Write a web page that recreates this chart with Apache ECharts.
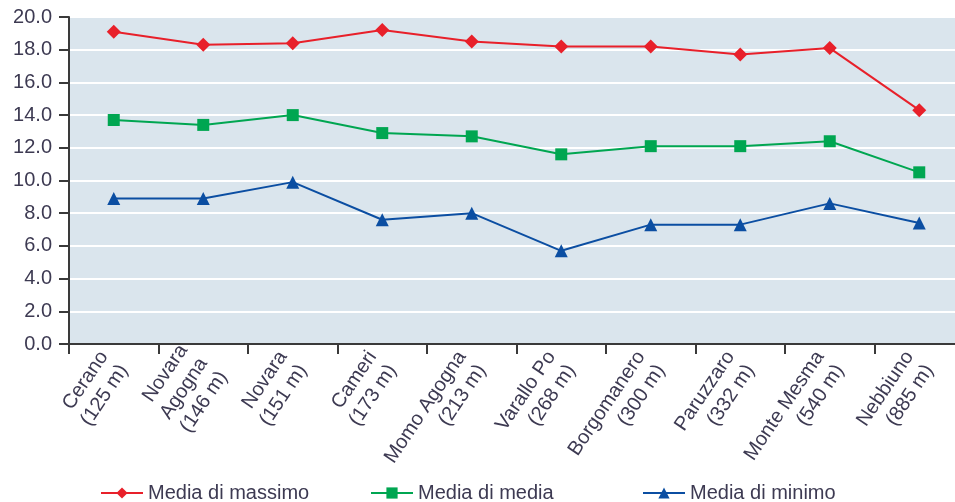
<!DOCTYPE html>
<html>
<head>
<meta charset="utf-8">
<script src="https://cdn.jsdelivr.net/npm/echarts@6/dist/echarts.min.js"></script>
<style>
html,body{margin:0;padding:0;background:#fff;overflow:hidden;width:955px;height:502px;}
#c{width:964px;height:502px;}
</style>
</head>
<body>
<div id="c"></div>
<script>
const categories = ['Cerano\n(125 m)', 'Novara\nAgogna\n(146 m)', 'Novara\n(151 m)', 'Cameri\n(173 m)', 'Momo Agogna\n(213 m)', 'Varallo Po\n(268 m)', 'Borgomanero\n(300 m)', 'Paruzzaro\n(332 m)', 'Monte Mesma\n(540 m)', 'Nebbiuno\n(885 m)'];
const mediaMassimo = [19.1, 18.3, 18.4, 19.2, 18.5, 18.2, 18.2, 17.7, 18.1, 14.3];
const mediaMedia = [13.7, 13.4, 14.0, 12.9, 12.7, 11.6, 12.1, 12.1, 12.4, 10.5];
const mediaMinimo = [8.9, 8.9, 9.9, 7.6, 8.0, 5.7, 7.3, 7.3, 8.6, 7.4];
const yTicks = [0, 2, 4, 6, 8, 10, 12, 14, 16, 18, 20];

const FONT = 'Liberation Sans, Arial, sans-serif';
const TXT = '#3d3a52';
const chart = echarts.init(document.getElementById('c'), null, {renderer: 'canvas'});
const legendBase = {
  orient: 'horizontal', top: 483, padding: 0, itemWidth: 42, itemHeight: 14, itemGap: 5,
  textStyle: {fontFamily: FONT, fontSize: 20, color: TXT},
  selectedMode: false
};
chart.setOption({
  animation: false,
  textStyle: {fontFamily: FONT},
  grid: {left: 69, top: 17, right: 0, bottom: 158, show: true, backgroundColor: '#dae5ed', borderWidth: 0},
  legend: [
    Object.assign({}, legendBase, {left: 100, data: ['Media di massimo']}),
    Object.assign({}, legendBase, {left: 370, data: ['Media di media']}),
    Object.assign({}, legendBase, {left: 642, data: ['Media di minimo']})
  ],
  xAxis: {
    type: 'category', data: categories, boundaryGap: true,
    axisLine: {lineStyle: {color: '#3a3a3a', width: 2}},
    axisTick: {show: true, length: 10, alignWithLabel: false, lineStyle: {color: '#3a3a3a', width: 2}},
    axisLabel: {interval: 0, rotate: 56, margin: 16, fontSize: 20, lineHeight: 24, color: TXT, fontFamily: FONT},
    splitLine: {show: false}
  },
  yAxis: {
    type: 'value', min: yTicks[0], max: yTicks[yTicks.length-1], interval: 2,
    axisLine: {show: true, lineStyle: {color: '#3a3a3a', width: 2}},
    axisTick: {show: true, length: 10, lineStyle: {color: '#3a3a3a', width: 2}},
    axisLabel: {margin: 17, fontSize: 20, color: TXT, fontFamily: FONT, formatter: v => v.toFixed(1)},
    splitLine: {show: true, lineStyle: {color: '#ffffff', width: 2}}
  },
  series: [
    {name: 'Media di massimo', type: 'line', data: mediaMassimo, symbol: 'diamond', symbolSize: 14,
     itemStyle: {color: '#e8202a'}, lineStyle: {color: '#e8202a', width: 2}},
    {name: 'Media di media', type: 'line', data: mediaMedia, symbol: 'rect', symbolSize: 12,
     itemStyle: {color: '#00a651'}, lineStyle: {color: '#00a651', width: 2}},
    {name: 'Media di minimo', type: 'line', data: mediaMinimo, symbol: 'triangle', symbolSize: 13,
     itemStyle: {color: '#0b4ea2'}, lineStyle: {color: '#0b4ea2', width: 2}}
  ]
});
</script>
</body>
</html>
